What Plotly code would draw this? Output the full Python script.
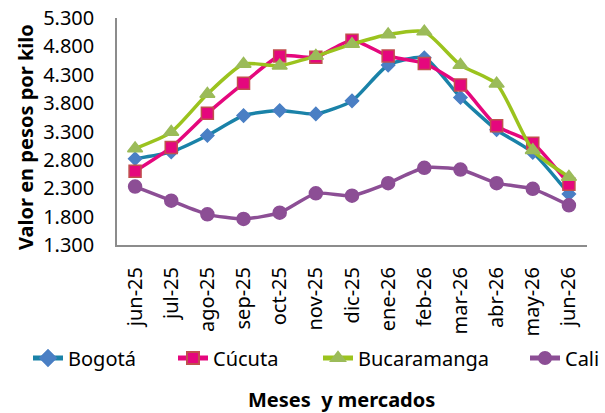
import plotly.graph_objects as go

months = ["jun-25", "jul-25", "ago-25", "sep-25", "oct-25", "nov-25", "dic-25",
          "ene-26", "feb-26", "mar-26", "abr-26", "may-26", "jun-26"]
bogota = [2820, 2940, 3230, 3580, 3670, 3610, 3840, 4470, 4600, 3900, 3330, 2930, 2200]
cucuta = [2600, 3020, 3620, 4150, 4630, 4610, 4910, 4630, 4500, 4120, 3400, 3095, 2370]
bucaramanga = [3000, 3290, 3960, 4490, 4460, 4630, 4840, 5010, 5060, 4470, 4140, 2970, 2500]
cali = [2330, 2080, 1840, 1760, 1870, 2210, 2170, 2390, 2660, 2630, 2390, 2290, 2000]
yticks = [1300, 1800, 2300, 2800, 3300, 3800, 4300, 4800, 5300]

series = [
    ("Bogotá", bogota, "#1A82A8", "diamond", "#4A7FC4", "#4A7FC4", 10, "legend"),
    ("Cúcuta", cucuta, "#E5077D", "square", "#E5077D", "#C0504D", 12, "legend2"),
    ("Bucaramanga", bucaramanga, "#9BC31E", "triangle-up", "#9BBB59", "#9BBB59", 13, "legend3"),
    ("Cali", cali, "#8C4E95", "circle", "#8C4E95", "#8C4E95", 13, "legend4"),
]

fig = go.Figure()
for name, vals, lc, sym, mc, mlc, ms, lg in series:
    fig.add_trace(go.Scatter(
        x=months, y=vals, name=name, mode="lines+markers", legend=lg,
        line=dict(color=lc, width=3.5, shape="spline", smoothing=0.6),
        marker=dict(symbol=sym, size=ms, color=mc, line=dict(color=mlc, width=1.5)),
    ))

# body margin is removed in the page (post_script), so the figure fills the window
W, H = 605, 413
L, R, T, B = 117, 18, 18, H - 245
pw, ph = W - L - R, H - T - B


def px(xw):
    return (xw - L) / pw


def py(yw):
    return (245 - yw) / ph


font = "Noto Sans, Open Sans, sans-serif"
leg_x = [28, 173, 318, 525]
legends = {}
for i, lx in enumerate(leg_x):
    key = "legend" if i == 0 else f"legend{i + 1}"
    legends[key] = dict(orientation="h", x=lx / W, xref="container", xanchor="left",
                        y=py(358), yanchor="middle", font=dict(size=20),
                        itemsizing="constant", bgcolor="rgba(0,0,0,0)")

fig.update_layout(
    width=W, height=H,
    margin=dict(l=L, r=R, t=T, b=B, autoexpand=False),
    paper_bgcolor="white", plot_bgcolor="white",
    separators=",.",
    font=dict(family=font, size=20, color="#000"),
    showlegend=True,
    xaxis=dict(range=[-0.5, 12.5], showgrid=False, showline=True, linecolor="#8C8C8C",
               linewidth=2, ticks="", tickangle=-90, tickfont=dict(size=20),
               ticklabelstandoff=12, ticklabeloverflow="allow",
               zeroline=False, automargin=False),
    yaxis=dict(range=[1300, 5300], tickvals=yticks, tickformat=",d", showgrid=False,
               showline=True, linecolor="#8C8C8C", linewidth=1.5, ticks="",
               tickfont=dict(size=20), ticklabelstandoff=17, ticklabeloverflow="allow",
               zeroline=False, automargin=False),
    annotations=[
        dict(text="<b>Valor en pesos por kilo</b>", textangle=-90,
             x=px(25), y=py(137), xanchor="center", yanchor="middle",
             xref="paper", yref="paper", showarrow=False, font=dict(size=20)),
        dict(text="<b>Meses  y mercados</b>", x=px(341), y=py(399),
             xanchor="center", yanchor="middle",
             xref="paper", yref="paper", showarrow=False, font=dict(size=20)),
    ],
    **legends,
)
fig.write_html("out.html", config={"displayModeBar": False},
               post_script="document.body.style.margin='0';")
